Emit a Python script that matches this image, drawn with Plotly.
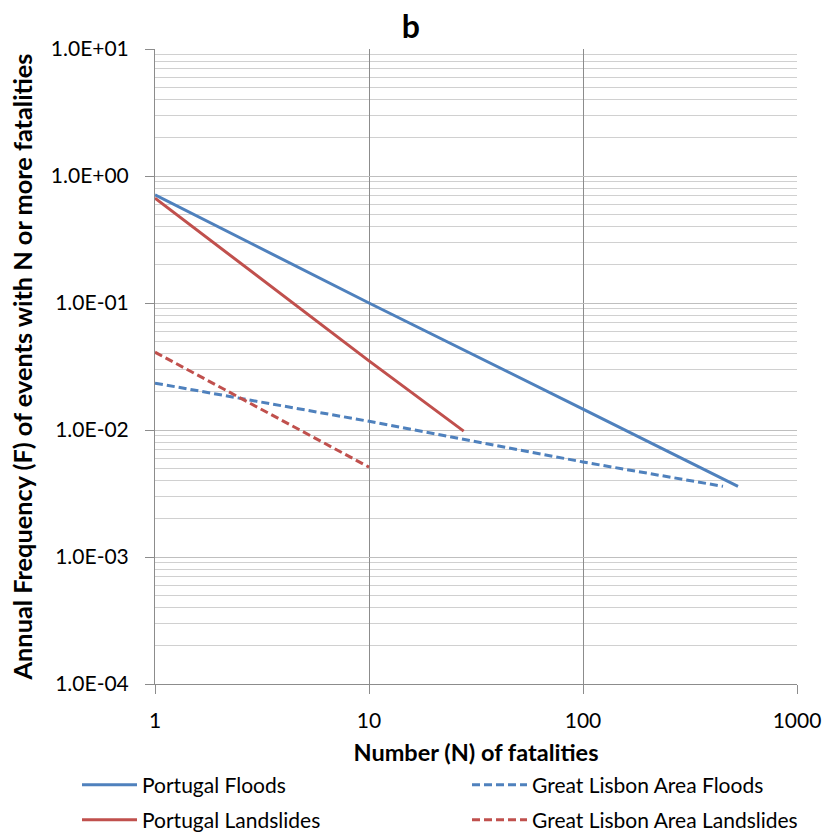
import plotly.graph_objects as go

# ---- data ----
pf_n = [1, 4.7, 10, 100, 530]
pf_f = [0.71, 0.19, 0.10, 0.0146, 0.0036]

pl_n = [1, 10, 27.7]
pl_f = [0.67, 0.035, 0.0098]

glf_n = [1, 10, 100, 451]
glf_f = [0.0234, 0.0117, 0.0056, 0.0036]

gll_n = [1, 10]
gll_f = [0.041, 0.0051]

x_ticks = [1, 10, 100, 1000]
x_ticktext = ["1", "10", "100", "1000"]
y_ticks = [1e-4, 1e-3, 1e-2, 1e-1, 1e0, 1e1]
y_ticktext = ["1.0E-04", "1.0E-03", "1.0E-02", "1.0E-01", "1.0E+00", "1.0E+01"]

BLUE = "#4F81BD"
RED = "#C0504D"
FONT = "Lato, sans-serif"

fig = go.Figure()
fig.add_trace(go.Scatter(x=pf_n, y=pf_f, mode="lines", name="Portugal Floods",
                         line=dict(color=BLUE, width=3), legend="legend"))
fig.add_trace(go.Scatter(x=glf_n, y=glf_f, mode="lines", name="Great Lisbon Area Floods",
                         line=dict(color=BLUE, width=3, dash="8px,4px"), legend="legend"))
fig.add_trace(go.Scatter(x=pl_n, y=pl_f, mode="lines", name="Portugal Landslides",
                         line=dict(color=RED, width=3), legend="legend2"))
fig.add_trace(go.Scatter(x=gll_n, y=gll_f, mode="lines", name="Great Lisbon Area Landslides",
                         line=dict(color=RED, width=3, dash="8px,4px"), legend="legend2"))

minor_y = [m * 10.0 ** k for k in range(-4, 1) for m in range(2, 10)]

W, H = 825, 833
L, R, T, B = 155, 28, 49, 149
PW, PH = W - L - R, H - T - B

leg_common = dict(orientation="h", entrywidth=320, entrywidthmode="pixels",
                  font=dict(family=FONT, size=21, color="#000000"),
                  bgcolor="rgba(0,0,0,0)", itemwidth=55, xanchor="left", yanchor="middle",
                  x=-78 / PW, itemclick=False)

fig.update_layout(
    width=W, height=H,
    margin=dict(l=L, r=R, t=T, b=B, autoexpand=False),
    paper_bgcolor="white", plot_bgcolor="white",
    font=dict(family=FONT, size=21, color="#000000"),
    title=dict(text="<b>b</b>", x=0.498, xref="container", xanchor="center",
               y=1 - 27 / H, yref="container", yanchor="middle",
               font=dict(family=FONT, size=32, color="#000000")),
    xaxis=dict(type="log", range=[0, 3], tickvals=x_ticks, ticktext=x_ticktext,
               showgrid=True, gridcolor="#8C8C8C", gridwidth=1,
               showline=True, linecolor="#8C8C8C", linewidth=1,
               ticks="outside", ticklen=9, tickcolor="#8C8C8C",
               tickfont=dict(family=FONT, size=21), zeroline=False,
               ticklabelstandoff=9,
               title=dict(text="<b>Number (N) of fatalities</b>", standoff=13,
                          font=dict(family=FONT, size=23.5))),
    yaxis=dict(type="log", range=[-4, 1], tickvals=y_ticks, ticktext=y_ticktext,
               showgrid=True, gridcolor="#BFBFBF", gridwidth=1,
               showline=True, linecolor="#8C8C8C", linewidth=1,
               ticks="outside", ticklen=9, tickcolor="#8C8C8C",
               tickfont=dict(family=FONT, size=21), ticklabelstandoff=12,
               minor=dict(tickvals=minor_y, showgrid=True, gridcolor="#D0D0D0",
                          gridwidth=1, ticks=""),
               title=dict(text="<b>Annual Frequency (F) of events with N or more fatalities</b>",
                          standoff=10, font=dict(family=FONT, size=25.3))),
    legend=dict(leg_common, y=-101 / PH),
    legend2=dict(leg_common, y=-136 / PH),
)

# remove the browser's default 8px body margin so the figure fills the window
fig.write_html("out.html", config={"displayModeBar": False},
               post_script="document.body.style.margin='0px';")
